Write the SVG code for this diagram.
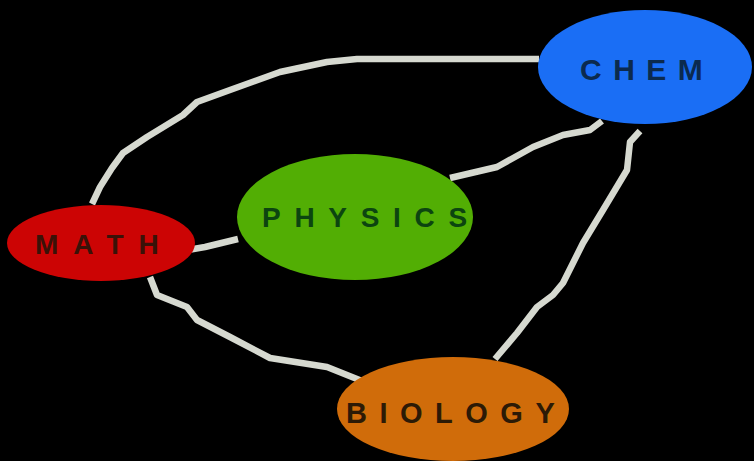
<svg xmlns="http://www.w3.org/2000/svg" width="754" height="461" viewBox="0 0 754 461">
<style>
.edge{fill:none;stroke:#d6d9d0;stroke-width:6.5;stroke-linecap:butt;stroke-linejoin:round}
.lbl{font-family:"Liberation Sans",Arial,sans-serif;font-weight:bold}
</style>
<rect width="754" height="461" fill="#000"/>
<g id="connectors">
<path class="edge" d="M92,204 L100,187 L112,168 L123,153 L147,137 L183,115 L197,102 L230,90 L280,72 L327,62 L357,59 L539,59"/>
<path class="edge" d="M182,251 L205,247 L238,239"/>
<path class="edge" d="M450,178 L497,167 L533,147 L563,135 L590,130 L602,121"/>
<path class="edge" d="M640,131 L630,142 L627,170 L603,210 L583,243 L563,283 L553,295 L537,307 L517,333 L495,359"/>
<path class="edge" d="M150,277 L157,295 L187,307 L197,320 L230,337 L270,358 L327,367 L362,381"/>
</g>
<g id="math">
<ellipse cx="101" cy="243" rx="94" ry="38" fill="#cc0404"/>
<text class="lbl" x="35" y="254" font-size="28" letter-spacing="15" fill="#3a1208">MATH</text>
</g>
<g id="chem">
<ellipse cx="645" cy="67" rx="107" ry="57" fill="#1a6ef5"/>
<text class="lbl" x="580" y="80" font-size="30" letter-spacing="11.5" fill="#0b2a4e">CHEM</text>
</g>
<g id="physics">
<ellipse cx="355" cy="217" rx="118" ry="63" fill="#52ae04"/>
<text class="lbl" x="262" y="227" font-size="28" letter-spacing="13.7" fill="#0c4510">PHYSICS</text>
</g>
<g id="biology">
<ellipse cx="453" cy="409" rx="116" ry="52" fill="#d06c0a"/>
<text class="lbl" x="346" y="423" font-size="29" letter-spacing="12.5" fill="#2c1a06">BIOLOGY</text>
</g>
</svg>
